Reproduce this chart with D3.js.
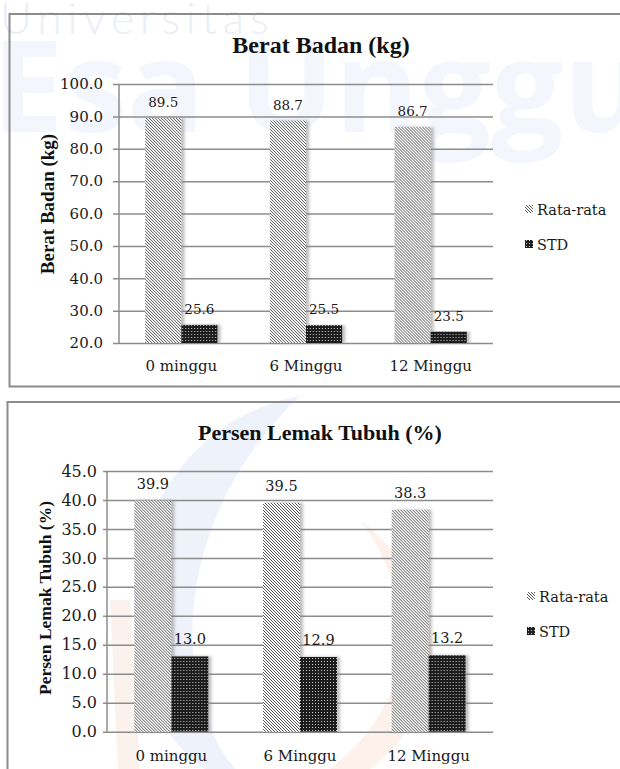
<!DOCTYPE html>
<html>
<head>
<meta charset="utf-8">
<script src="https://cdn.jsdelivr.net/npm/d3@7/dist/d3.min.js"></script>
<style>
  html, body { margin: 0; padding: 0; background: #fff; }
  svg { display: block; }
</style>
</head>
<body>
<svg id="page" width="620" height="769"></svg>
<script>
// Categories and series shared by both charts
const categories = ["0 minggu", "6 Minggu", "12 Minggu"];
const seriesNames = ["Rata-rata", "STD"];

// Berat Badan (kg)
const beratMean = [89.5, 88.7, 86.7];
const beratStd = [25.6, 25.5, 23.5];
const beratTicks = [20, 30, 40, 50, 60, 70, 80, 90, 100];

// Persen Lemak Tubuh (%)
const lemakMean = [39.9, 39.5, 38.3];
const lemakStd = [13.0, 12.9, 13.2];
const lemakTicks = [0, 5, 10, 15, 20, 25, 30, 35, 40, 45];

const svg = d3.select("#page");
const defs = svg.append("defs");

// Diagonal hatch for the mean series
const hatch = defs.append("pattern")
  .attr("id", "hatch").attr("patternUnits", "userSpaceOnUse")
  .attr("width", 3).attr("height", 3);
hatch.append("rect").attr("width", 3).attr("height", 3).attr("fill", "#fff");
hatch.append("path")
  .attr("d", "M-1,-1 L4,4 M-1,2 L1,4 M2,-1 L4,1")
  .attr("stroke", "#333").attr("stroke-width", 0.85);

// Dense dotted dark fill for the STD series
const dots = defs.append("pattern")
  .attr("id", "dots").attr("patternUnits", "userSpaceOnUse")
  .attr("width", 3).attr("height", 3);
dots.append("rect").attr("width", 3).attr("height", 3).attr("fill", "#1e1e1e");
dots.append("rect").attr("x", 1).attr("y", 1).attr("width", 1).attr("height", 1).attr("fill", "#c8c8c8");

// Soft shadow on the right side of bars
const shadow = defs.append("filter").attr("id", "shadow")
  .attr("x", "-20%").attr("y", "-5%").attr("width", "160%").attr("height", "110%");
shadow.append("feDropShadow").attr("dx", 3).attr("dy", 0)
  .attr("stdDeviation", 1.4).attr("flood-color", "#888").attr("flood-opacity", 0.55);

// Faint background watermark
const wm = svg.append("g").attr("pointer-events", "none");
wm.append("text").attr("x", 0).attr("y", 34)
  .attr("font-family", "Lato, 'Open Sans', sans-serif").attr("font-weight", 300)
  .attr("font-size", 44).attr("letter-spacing", 6).attr("fill", "#eaeef5")
  .text("Universitas");
wm.append("text").attr("x", -8).attr("y", 132)
  .attr("font-family", "'Open Sans', sans-serif").attr("font-weight", 700)
  .attr("font-size", 128).attr("fill", "#f3f6fc")
  .text("Esa Unggul");
wm.append("path")
  .attr("d", "M300,396 C170,420 100,560 150,700 C170,740 190,760 205,769 L235,769 C170,690 170,520 300,396 Z")
  .attr("fill", "#edf2fb");
wm.append("path")
  .attr("d", "M360,520 C420,600 420,700 330,769 L370,769 C460,700 450,590 360,520 Z")
  .attr("fill", "#fcf1eb");
wm.append("path")
  .attr("d", "M110,600 L130,600 L140,769 L118,769 Z")
  .attr("fill", "#fcf2ed");

function drawChart(cfg) {
  const g = svg.append("g");

  // Frame (open on the right side)
  g.append("path")
    .attr("d", `M${cfg.box.right},${cfg.box.top} L${cfg.box.left},${cfg.box.top} L${cfg.box.left},${cfg.box.bottom} L${cfg.box.right},${cfg.box.bottom}`)
    .attr("fill", "none").attr("stroke", "#8c8c8c").attr("stroke-width", 2);

  const y = d3.scaleLinear().domain(cfg.domain).range([cfg.plot.bottom, cfg.plot.top]);
  const x0 = d3.scaleBand().domain(categories)
    .range([cfg.plot.left, cfg.plot.right])
    .paddingInner(cfg.pad).paddingOuter(cfg.pad / 2);
  const x1 = d3.scaleBand().domain(seriesNames).range([0, x0.bandwidth()]);

  // Gridlines with small outer ticks
  const yAxis = d3.axisLeft(y).tickValues(cfg.ticks)
    .tickSize(-(cfg.plot.right - cfg.plot.left))
    .tickPadding(cfg.tickGap)
    .tickFormat(d3.format(".1f"));
  const ax = g.append("g").attr("transform", `translate(${cfg.plot.left},0)`).call(yAxis);
  ax.select(".domain").remove();
  ax.selectAll(".tick line")
    .attr("x1", -cfg.tickOut)
    .attr("stroke", "#8c8c8c").attr("stroke-width", 1.5);
  ax.selectAll(".tick text")
    .attr("x", -cfg.tickGap)
    .attr("font-family", "'DejaVu Serif', serif")
    .attr("font-size", cfg.tickFont).attr("fill", "#1a1a1a");

  g.append("line")
    .attr("x1", cfg.plot.left).attr("x2", cfg.plot.left)
    .attr("y1", cfg.plot.top).attr("y2", cfg.plot.bottom)
    .attr("stroke", "#8c8c8c").attr("stroke-width", 1.5);

  // Bars
  const rows = categories.map((c, i) => ({ cat: c, vals: [
    { s: seriesNames[0], v: cfg.mean[i] },
    { s: seriesNames[1], v: cfg.std[i] }
  ]}));
  const grp = g.selectAll(".grp").data(rows).join("g")
    .attr("transform", d => `translate(${x0(d.cat)},0)`);
  grp.selectAll("rect").data(d => d.vals).join("rect")
    .attr("x", d => x1(d.s))
    .attr("y", d => y(d.v))
    .attr("width", x1.bandwidth())
    .attr("height", d => y(cfg.domain[0]) - y(d.v))
    .attr("fill", d => d.s === seriesNames[0] ? "url(#hatch)" : "url(#dots)")
    .attr("filter", "url(#shadow)");
  grp.selectAll("text").data(d => d.vals).join("text")
    .attr("x", d => x1(d.s) + x1.bandwidth() / 2)
    .attr("y", d => y(d.v) - cfg.labelGap)
    .attr("text-anchor", "middle")
    .attr("font-family", "'DejaVu Serif', serif")
    .attr("font-size", cfg.labelFont).attr("fill", "#1a1a1a")
    .text(d => d.v.toFixed(1));

  // Category labels
  g.selectAll(".cat").data(categories).join("text")
    .attr("x", d => x0(d) + x0.bandwidth() / 2)
    .attr("y", cfg.catY)
    .attr("text-anchor", "middle")
    .attr("font-family", "'DejaVu Serif', serif")
    .attr("font-size", 15).attr("fill", "#1a1a1a")
    .text(d => d);

  // Title
  g.append("text")
    .attr("x", cfg.titleX).attr("y", cfg.titleY)
    .attr("text-anchor", "middle")
    .attr("font-family", "'Liberation Serif', 'Times New Roman', serif")
    .attr("font-weight", "bold").attr("font-size", cfg.titleFont)
    .attr("fill", "#111").text(cfg.title);

  // Y axis title
  g.append("text")
    .attr("transform", `translate(${cfg.yLabelX},${cfg.yLabelY}) rotate(-90)`)
    .attr("text-anchor", "middle").attr("dy", "0.35em")
    .attr("font-family", "'Liberation Serif', 'Times New Roman', serif")
    .attr("font-weight", "bold").attr("font-size", cfg.yLabelFont)
    .attr("fill", "#111").text(cfg.title);

  // Legend
  const lg = g.selectAll(".lg").data(seriesNames).join("g")
    .attr("transform", (d, i) => `translate(${cfg.legendX},${cfg.legendY + i * cfg.legendStep})`);
  lg.append("rect").attr("x", 0).attr("y", -5).attr("width", 8).attr("height", 8)
    .attr("fill", (d, i) => i === 0 ? "url(#hatch)" : "url(#dots)");
  lg.append("text").attr("x", 12).attr("y", 0).attr("dy", "0.35em")
    .attr("font-family", "'DejaVu Serif', serif")
    .attr("font-size", 14.5).attr("fill", "#1a1a1a")
    .text(d => d);
}

drawChart({
  title: "Berat Badan (kg)",
  mean: beratMean, std: beratStd, ticks: beratTicks, domain: [20, 100],
  box: { left: 9.5, top: 14, right: 622, bottom: 386.5 },
  plot: { left: 119, right: 493, top: 84, bottom: 343 },
  pad: 0.42, tickGap: 16, tickOut: 6, tickFont: 15,
  labelFont: 13.5, labelGap: 11,
  catY: 371, titleX: 321, titleY: 53, titleFont: 24,
  yLabelX: 47, yLabelY: 204, yLabelFont: 19,
  legendX: 525, legendY: 210, legendStep: 35
});

drawChart({
  title: "Persen Lemak Tubuh (%)",
  mean: lemakMean, std: lemakStd, ticks: lemakTicks, domain: [0, 45],
  box: { left: 7.5, top: 402, right: 622, bottom: 780 },
  plot: { left: 107, right: 493, top: 471, bottom: 731.7 },
  pad: 0.425, tickGap: 10, tickOut: 4, tickFont: 16,
  labelFont: 14.5, labelGap: 12,
  catY: 761, titleX: 320, titleY: 440, titleFont: 22,
  yLabelX: 45, yLabelY: 598, yLabelFont: 17.5,
  legendX: 527, legendY: 597, legendStep: 35
});
</script>
</body>
</html>
